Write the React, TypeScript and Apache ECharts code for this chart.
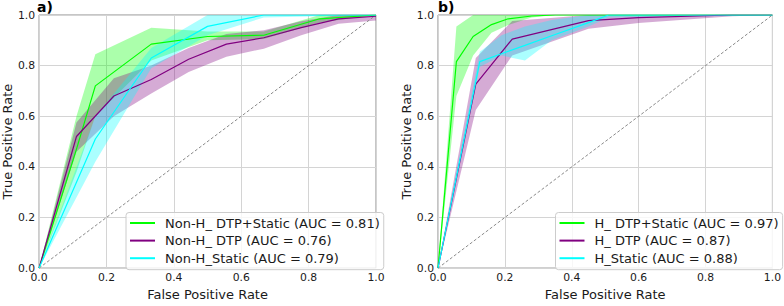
import React, { useEffect, useRef } from "react";
import * as echarts from "echarts";

// ---------- Panel a) Non-H ----------
const aGreenName = "Non-H_ DTP+Static (AUC = 0.81)";
const aGreenFpr = [0, 0.111, 0.167, 0.333, 0.5, 0.667, 0.833, 1.0];
const aGreenMean = [0, 0.47, 0.72, 0.885, 0.915, 0.92, 0.985, 1.0];
const aGreenUpper = [0, 0.6, 0.845, 0.95, 0.935, 0.935, 1.0, 1.0];
const aGreenLower = [0, 0.38, 0.6, 0.82, 0.9, 0.905, 0.97, 1.0];

const aPurpleName = "Non-H_ DTP (AUC = 0.76)";
const aPurpleFpr = [0, 0.111, 0.222, 0.333, 0.444, 0.556, 0.667, 0.778, 0.889, 1.0];
const aPurpleMean = [0, 0.52, 0.68, 0.745, 0.825, 0.885, 0.91, 0.95, 0.985, 0.995];
const aPurpleUpper = [0, 0.575, 0.75, 0.8, 0.87, 0.925, 0.94, 0.975, 1.0, 1.0];
const aPurpleLower = [0, 0.46, 0.6, 0.69, 0.775, 0.835, 0.867, 0.92, 0.965, 0.978];

const aCyanName = "Non-H_Static (AUC = 0.79)";
const aCyanFpr = [0, 0.167, 0.333, 0.5, 0.667, 1.0];
const aCyanMean = [0, 0.51, 0.83, 0.955, 1.0, 1.0];
const aCyanUpper = [0, 0.6, 0.87, 1.0, 1.0, 1.0];
const aCyanLower = [0, 0.42, 0.79, 0.92, 0.99, 1.0];

// ---------- Panel b) H ----------
const bGreenName = "H_ DTP+Static (AUC = 0.97)";
const bGreenFpr = [0, 0.055, 0.105, 0.16, 0.21, 0.28, 0.35, 1.0];
const bGreenMean = [0, 0.816, 0.915, 0.962, 0.985, 0.996, 1.0, 1.0];
const bGreenUpper = [0, 0.955, 1.0, 1.0, 1.0, 1.0, 1.0, 1.0];
const bGreenLower = [0, 0.68, 0.84, 0.93, 0.96, 0.99, 1.0, 1.0];

const bPurpleName = "H_ DTP (AUC = 0.87)";
const bPurpleFpr = [0, 0.113, 0.222, 0.45, 0.6, 0.88, 1.0];
const bPurpleMean = [0, 0.727, 0.905, 0.978, 0.99, 1.0, 1.0];
const bPurpleUpper = [0, 0.83, 0.976, 1.0, 1.0, 1.0, 1.0];
const bPurpleLower = [0, 0.625, 0.84, 0.946, 0.968, 0.995, 1.0];

const bCyanName = "H_Static (AUC = 0.88)";
const bCyanFpr = [0, 0.125, 0.19, 0.26, 0.34, 0.45, 0.51, 1.0];
const bCyanMean = [0, 0.816, 0.847, 0.88, 0.918, 0.97, 1.0, 1.0];
const bCyanUpper = [0, 0.855, 0.92, 0.955, 0.98, 1.0, 1.0, 1.0];
const bCyanLower = [0, 0.795, 0.84, 0.82, 0.9, 0.955, 0.99, 1.0];

const diagonal = [
  [0, 0],
  [1, 1],
];

const GREEN = "#00ff00";
const PURPLE = "#800080";
const CYAN = "#00ffff";
const FONT = "DejaVu Sans";

function rgba(hex: string, a: number) {
  const r = parseInt(hex.slice(1, 3), 16);
  const g = parseInt(hex.slice(3, 5), 16);
  const b = parseInt(hex.slice(5, 7), 16);
  return `rgba(${r},${g},${b},${a})`;
}

function band(idx: number, fpr: number[], lower: number[], upper: number[], color: string) {
  return {
    type: "custom",
    name: "band" + idx + color,
    xAxisIndex: idx,
    yAxisIndex: idx,
    silent: true,
    clip: true,
    z: 1,
    data: [[0, 0]],
    encode: { x: 0, y: 1 },
    renderItem: (_params: any, api: any) => {
      const pts: number[][] = [];
      for (let i = 0; i < fpr.length; i++) pts.push(api.coord([fpr[i], upper[i]]));
      for (let i = fpr.length - 1; i >= 0; i--) pts.push(api.coord([fpr[i], lower[i]]));
      return {
        type: "polygon",
        shape: { points: pts },
        style: { fill: rgba(color, 0.33), stroke: "none" },
      };
    },
  };
}

function line(idx: number, name: string, fpr: number[], mean: number[], color: string) {
  return {
    type: "line",
    name,
    xAxisIndex: idx,
    yAxisIndex: idx,
    symbol: "none",
    z: 3,
    data: fpr.map((x, i) => [x, mean[i]]),
    lineStyle: { color, width: 1.2 },
    itemStyle: { color },
  };
}

function diag(idx: number) {
  return {
    type: "line",
    name: "diag" + idx,
    xAxisIndex: idx,
    yAxisIndex: idx,
    symbol: "none",
    silent: true,
    z: 2,
    data: diagonal,
    lineStyle: { color: "#8a8a8a", width: 1, type: [3, 2] },
  };
}

function xAxis(idx: number) {
  return {
    type: "value",
    gridIndex: idx,
    min: 0,
    max: 1,
    interval: 0.2,
    name: "False Positive Rate",
    nameLocation: "middle",
    nameGap: 15,
    nameTextStyle: { fontFamily: FONT, fontSize: 13, color: "#1a1a1a" },
    axisLine: { show: false },
    axisTick: { show: false },
    axisLabel: {
      fontFamily: FONT,
      fontSize: 10.8,
      color: "#1a1a1a",
      margin: 4,
      formatter: (v: number) => v.toFixed(1),
    },
    splitLine: { show: true, lineStyle: { color: "#d4d4d4", width: 1 } },
  };
}

function yAxis(idx: number) {
  return {
    type: "value",
    gridIndex: idx,
    min: 0,
    max: 1,
    interval: 0.2,
    name: "True Positive Rate",
    nameLocation: "middle",
    nameGap: 23,
    nameTextStyle: { fontFamily: FONT, fontSize: 13, color: "#1a1a1a" },
    axisLine: { show: false },
    axisTick: { show: false },
    axisLabel: {
      fontFamily: FONT,
      fontSize: 10.8,
      color: "#1a1a1a",
      margin: 4,
      formatter: (v: number) => v.toFixed(1),
    },
    splitLine: { show: true, lineStyle: { color: "#d4d4d4", width: 1 } },
  };
}

function legend(left: number, names: string[]) {
  return {
    orient: "vertical",
    left,
    top: 212.5,
    data: names,
    icon: "rect",
    itemWidth: 25,
    itemHeight: 2,
    itemGap: 2.6,
    padding: [3, 4, 4, 4],
    backgroundColor: "rgba(255,255,255,0.8)",
    borderColor: "#cccccc",
    borderWidth: 1,
    borderRadius: 3,
    selectedMode: false,
    textStyle: {
      fontFamily: FONT,
      fontSize: 13,
      color: "#1a1a1a",
      lineHeight: 15,
      padding: [0, 0, 0, 5],
    },
  };
}

export default function App() {
  const ref = useRef<HTMLDivElement>(null);
  useEffect(() => {
    if (!ref.current) return;
    const chart = echarts.init(ref.current, undefined, { renderer: "svg" });
    chart.setOption({
      animation: false,
      backgroundColor: "#ffffff",
      grid: [
        { left: 37, top: 15, width: 339, height: 263, show: true, borderColor: "#8c8c8c", borderWidth: 1, backgroundColor: "transparent" },
        { left: 438, top: 15, width: 337, height: 263, show: true, borderColor: "#8c8c8c", borderWidth: 1, backgroundColor: "transparent" },
      ],
      xAxis: [xAxis(0), xAxis(1)],
      yAxis: [yAxis(0), yAxis(1)],
      legend: [
        legend(126, [aGreenName, aPurpleName, aCyanName]),
        legend(555.5, [bGreenName, bPurpleName, bCyanName]),
      ],
      graphic: [
        { type: "text", left: 37, top: 0, style: { text: "a)", font: `bold 14px "${FONT}"`, fill: "#000" } },
        { type: "text", left: 438, top: 0, style: { text: "b)", font: `bold 14px "${FONT}"`, fill: "#000" } },
      ],
      series: [
        diag(0),
        band(0, aGreenFpr, aGreenLower, aGreenUpper, GREEN),
        band(0, aPurpleFpr, aPurpleLower, aPurpleUpper, PURPLE),
        band(0, aCyanFpr, aCyanLower, aCyanUpper, CYAN),
        line(0, aGreenName, aGreenFpr, aGreenMean, GREEN),
        line(0, aPurpleName, aPurpleFpr, aPurpleMean, PURPLE),
        line(0, aCyanName, aCyanFpr, aCyanMean, CYAN),
        diag(1),
        band(1, bGreenFpr, bGreenLower, bGreenUpper, GREEN),
        band(1, bPurpleFpr, bPurpleLower, bPurpleUpper, PURPLE),
        band(1, bCyanFpr, bCyanLower, bCyanUpper, CYAN),
        line(1, bGreenName, bGreenFpr, bGreenMean, GREEN),
        line(1, bPurpleName, bPurpleFpr, bPurpleMean, PURPLE),
        line(1, bCyanName, bCyanFpr, bCyanMean, CYAN),
      ],
    });
    return () => chart.dispose();
  }, []);
  return (
    <div
      ref={ref}
      style={{ position: "fixed", left: 0, top: 0, width: 784, height: 306, background: "#fff" }}
    />
  );
}
